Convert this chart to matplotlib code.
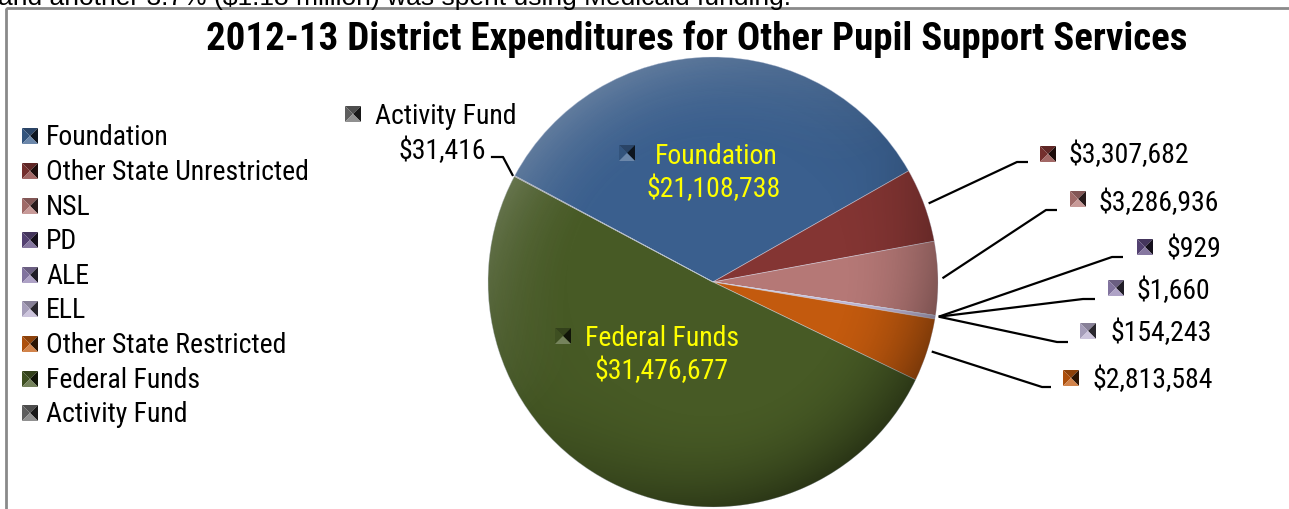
import numpy as np
import matplotlib
matplotlib.use("Agg")
import matplotlib.pyplot as plt
from matplotlib.patches import Polygon, Circle, Rectangle
from matplotlib import colors as mcolors

# ---- data -------------------------------------------------------------
categories = ["Foundation", "Other State Unrestricted", "NSL", "PD", "ALE", "ELL",
              "Other State Restricted", "Federal Funds", "Activity Fund"]
amounts = [21108738, 3307682, 3286936, 929, 1660, 154243, 2813584, 31476677, 31416]
slice_colors = ["#3a5f8e", "#843533", "#b57876", "#5e4a80", "#9383b3", "#bcb2d2",
                "#c35a0e", "#475a25", "#6b6b6b"]
title = "2012-13 District Expenditures for Other Pupil Support Services"
intro_line = "and another 3.7% ($1.18 million) was spent using Medicaid funding."

# ---- fonts ------------------------------------------------------------
FAM = ["Roboto Condensed", "Liberation Sans", "DejaVu Sans"]
plt.rcParams["font.family"] = FAM
FS = 20

W, H = 1289, 510
fig = plt.figure(figsize=(W / 100, H / 100), dpi=100)
fig.patch.set_facecolor("white")

# ---- pie --------------------------------------------------------------
cx, cy, R = 713, 283, 225
ax = fig.add_axes([(cx - R) / W, (H - cy - R) / H, 2 * R / W, 2 * R / H])
total = float(sum(amounts))
start = 29.6 + 360.0 * amounts[0] / total
wedges, _ = ax.pie(amounts, colors=slice_colors, startangle=start, counterclock=False,
                   radius=1.0, wedgeprops=dict(edgecolor=(0.85, 0.88, 0.95, 0.45), linewidth=0.6))
ax.set_xlim(-1, 1)
ax.set_ylim(-1, 1)
ax.set_aspect("equal")
ax.axis("off")

# soft 3D-like shading: lit from the upper left, darker toward the lower right rim
n = 700
yy, xx = np.mgrid[1:-1:n * 1j, -1:1:n * 1j]
r = np.hypot(xx, yy)
rim = np.clip((r - 0.55) / 0.45, 0, 1) ** 2.0
d = (xx * -0.6 + yy * 0.8) / np.maximum(r, 1e-6)
light_a = rim * np.clip(d, 0, 1) * 0.22
dark_a = rim * (np.clip(-d, 0, 1) * 0.33 + 0.08)
light = np.zeros((n, n, 4)); light[..., :3] = 1.0; light[..., 3] = light_a
dark = np.zeros((n, n, 4)); dark[..., 3] = dark_a
clip = Circle((0, 0), 1.0, transform=ax.transData)
for img in (dark, light):
    im = ax.imshow(img, extent=(-1, 1, -1, 1), zorder=3, interpolation="bilinear")
    im.set_clip_path(clip)

# ---- overlay in pixel coordinates -------------------------------------
ov = fig.add_axes([0, 0, 1, 1], zorder=5)
ov.set_xlim(0, W)
ov.set_ylim(H, 0)
ov.axis("off")
ov.patch.set_alpha(0)


def shade(c, f):
    rgb = np.array(mcolors.to_rgb(c))
    if f >= 1:
        return tuple(rgb + (1 - rgb) * (f - 1))
    return tuple(rgb * f)


def marker(x, y, c, s=8):
    """Pyramid-style legend key made of four triangles."""
    tris = [
        ([(x - s, y - s), (x + s, y - s), (x, y)], shade(c, 0.72)),   # top
        ([(x - s, y - s), (x - s, y + s), (x, y)], shade(c, 0.88)),   # left
        ([(x + s, y - s), (x + s, y + s), (x, y)], shade(c, 0.22)),   # right
        ([(x - s, y + s), (x + s, y + s), (x, y)], shade(c, 1.25)),   # bottom
    ]
    for pts, col in tris:
        ov.add_patch(Polygon(pts, closed=True, facecolor=col, edgecolor="none"))


# frame and the text line above it
ov.add_patch(Rectangle((6, 9), W + 50, H + 50, fill=False, edgecolor="#8a8a8a", lw=2))
ov.text(-2, 5, intro_line, fontsize=19, family=["Liberation Sans", "DejaVu Sans"],
        ha="left", va="baseline", color="black")

ov.text(697, 39, title, fontsize=28, fontweight="bold", ha="center", va="center")

# legend
leg_y = [137, 172, 207, 241, 276, 310, 345, 380, 414]
for name, col, y in zip(categories, slice_colors, leg_y):
    marker(30, y, col)
    ov.text(46, y + 1, name, fontsize=FS, ha="left", va="center")

fig.canvas.draw()
to_px = ax.transData + ov.transData.inverted()


def edge_point(i, rr=1.02):
    w = wedges[i]
    mid = np.deg2rad((w.theta1 + w.theta2) / 2)
    return to_px.transform((rr * np.cos(mid), rr * np.sin(mid)))


def money(v):
    return "${:,.0f}".format(v)


# outside labels: (elbow, line end, key centre, text left, text y)
outside = {
    1: ((1017, 163), (1028, 163), (1048, 155), 1068, 155),
    2: ((1046, 211), (1057, 211), (1078, 200), 1099, 203),
    3: ((1112, 258), (1123, 258), (1145, 248), 1166, 250),
    4: ((1083, 300), (1095, 300), (1116, 289), 1137, 291),
    5: ((1057, 343), (1068, 343), (1088, 332), 1110, 333),
    6: ((1042, 388), (1051, 388), (1071, 379), 1092, 380),
}
small = (3, 4, 5)
hub = np.mean([edge_point(i, 1.015) for i in small], axis=0)
for i, (elbow, end, key, tx, ty) in outside.items():
    p0 = hub if i in small else edge_point(i)
    ov.plot([p0[0], elbow[0], end[0]], [p0[1], elbow[1], end[1]], color="black", lw=1.6,
            solid_capstyle="butt")
    marker(key[0], key[1], slice_colors[i])
    ov.text(tx, ty, money(amounts[i]), fontsize=FS, ha="left", va="center")

# Activity Fund label on the upper left
p0 = edge_point(8, 1.01)
ov.plot([p0[0], 503, 492], [p0[1], 158, 158], color="black", lw=1.6)
marker(353, 115, slice_colors[8])
ov.text(375, 116, categories[8], fontsize=FS, ha="left", va="center")
ov.text(486, 151, money(amounts[8]), fontsize=FS, ha="right", va="center")

# labels inside the two large slices
yellow = "#ffff00"
marker(627, 154, slice_colors[0])
ov.text(655, 157, categories[0], fontsize=FS, color=yellow, ha="left", va="center")
ov.text(714, 189, money(amounts[0]), fontsize=FS, color=yellow, ha="center", va="center")
marker(563, 337, slice_colors[7])
ov.text(585, 339, categories[7], fontsize=FS, color=yellow, ha="left", va="center")
ov.text(662, 371, money(amounts[7]), fontsize=FS, color=yellow, ha="center", va="center")

fig.savefig("out.png", dpi=100, facecolor="white")
